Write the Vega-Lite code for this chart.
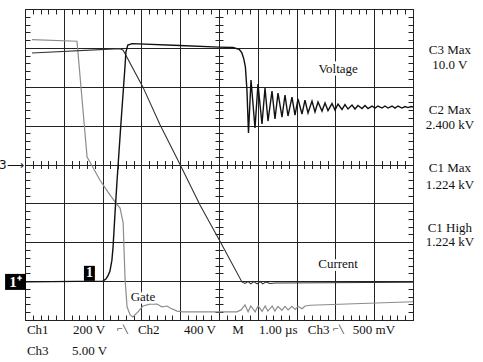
{
  "$schema": "https://vega.github.io/schema/vega-lite/v6.json",
  "width": 388,
  "height": 311,
  "autosize": {"type": "none"},
  "padding": {"left": 25, "top": 9, "right": 70, "bottom": 42},
  "background": "white",
  "config": {
    "view": {"stroke": null},
    "axis": {"domainColor": "#222", "tickColor": "#222", "gridColor": "#222", "domainWidth": 1, "tickWidth": 1, "gridWidth": 1},
    "text": {"font": "Liberation Serif", "fontSize": 13}
  },
  "datasets": {
    "voltage": [
      {"t": 0, "v": -3.02}, {"t": 2.01, "v": -3.0}, {"t": 2.09, "v": -2.94}, {"t": 2.14, "v": -2.86},
      {"t": 2.19, "v": -2.74}, {"t": 2.24, "v": -2.46}, {"t": 2.27, "v": -2.12}, {"t": 2.32, "v": -1.25},
      {"t": 2.37, "v": -0.45}, {"t": 2.47, "v": 1.02}, {"t": 2.58, "v": 2.56}, {"t": 2.6, "v": 2.89},
      {"t": 2.65, "v": 3.07}, {"t": 2.76, "v": 3.11}, {"t": 3.99, "v": 3.06}, {"t": 5.0, "v": 3.02},
      {"t": 5.36, "v": 3.01}, {"t": 5.52, "v": 2.96}, {"t": 5.59, "v": 2.87}, {"t": 5.64, "v": 2.71},
      {"t": 5.68, "v": 2.51}, {"t": 5.72, "v": 1.92}, {"t": 5.76, "v": 0.81},
      {"t": 5.825, "v": 2.172}, {"t": 5.928, "v": 0.938}, {"t": 6.005, "v": 2.069}, {"t": 6.108, "v": 1.041},
      {"t": 6.186, "v": 1.967}, {"t": 6.263, "v": 1.118}, {"t": 6.366, "v": 1.889}, {"t": 6.443, "v": 1.17},
      {"t": 6.521, "v": 1.838}, {"t": 6.624, "v": 1.221}, {"t": 6.701, "v": 1.787}, {"t": 6.778, "v": 1.247},
      {"t": 6.881, "v": 1.735}, {"t": 6.959, "v": 1.272}, {"t": 7.036, "v": 1.684}, {"t": 7.139, "v": 1.298},
      {"t": 7.216, "v": 1.658}, {"t": 7.294, "v": 1.324}, {"t": 7.397, "v": 1.632}, {"t": 7.474, "v": 1.35},
      {"t": 7.552, "v": 1.607}, {"t": 7.655, "v": 1.375}, {"t": 7.732, "v": 1.581}, {"t": 7.809, "v": 1.388},
      {"t": 7.912, "v": 1.568}, {"t": 7.99, "v": 1.401}, {"t": 8.067, "v": 1.555}, {"t": 8.17, "v": 1.414},
      {"t": 8.247, "v": 1.542}, {"t": 8.325, "v": 1.427}, {"t": 8.428, "v": 1.53}, {"t": 8.505, "v": 1.427},
      {"t": 8.582, "v": 1.517}, {"t": 8.686, "v": 1.44}, {"t": 8.763, "v": 1.517}, {"t": 8.84, "v": 1.44},
      {"t": 8.943, "v": 1.504}, {"t": 9.021, "v": 1.452}, {"t": 9.098, "v": 1.504}, {"t": 9.201, "v": 1.452},
      {"t": 9.278, "v": 1.504}, {"t": 9.356, "v": 1.452}, {"t": 9.459, "v": 1.504}, {"t": 9.536, "v": 1.452},
      {"t": 9.613, "v": 1.504}, {"t": 9.716, "v": 1.452}, {"t": 9.794, "v": 1.491}, {"t": 9.871, "v": 1.465},
      {"t": 9.948, "v": 1.491}, {"t": 10.0, "v": 1.478}
    ],
    "current": [
      {"t": 0.18, "v": 2.87}, {"t": 2.45, "v": 2.98}, {"t": 2.53, "v": 2.94}, {"t": 3.04, "v": 1.99},
      {"t": 3.48, "v": 1.02}, {"t": 3.99, "v": 0.01}, {"t": 4.51, "v": -1.04}, {"t": 5.05, "v": -2.02},
      {"t": 5.59, "v": -3.02}, {"t": 5.67, "v": -3.06}, {"t": 5.75, "v": -3.01}, {"t": 5.82, "v": -3.07},
      {"t": 5.9, "v": -3.01}, {"t": 5.98, "v": -3.07}, {"t": 6.06, "v": -3.01}, {"t": 6.13, "v": -3.07},
      {"t": 6.21, "v": -3.02}, {"t": 6.31, "v": -3.06}, {"t": 6.44, "v": -3.05}, {"t": 10.0, "v": -3.03}
    ],
    "gate": [
      {"t": 0.18, "v": 3.21}, {"t": 1.34, "v": 3.17}, {"t": 1.6, "v": 0.19}, {"t": 1.73, "v": -0.04},
      {"t": 1.93, "v": -0.4}, {"t": 2.14, "v": -0.71}, {"t": 2.32, "v": -0.96}, {"t": 2.45, "v": -1.12},
      {"t": 2.53, "v": -1.5}, {"t": 2.55, "v": -2.12}, {"t": 2.58, "v": -2.97}, {"t": 2.63, "v": -3.66},
      {"t": 2.71, "v": -3.87}, {"t": 2.78, "v": -3.92}, {"t": 2.91, "v": -3.79}, {"t": 3.04, "v": -3.64},
      {"t": 3.22, "v": -3.59}, {"t": 3.4, "v": -3.59}, {"t": 3.53, "v": -3.66}, {"t": 3.66, "v": -3.64},
      {"t": 3.74, "v": -3.69}, {"t": 3.92, "v": -3.77}, {"t": 4.07, "v": -3.79}, {"t": 5.46, "v": -3.79},
      {"t": 5.57, "v": -3.74}, {"t": 5.67, "v": -3.61}, {"t": 5.75, "v": -3.79}, {"t": 5.82, "v": -3.64},
      {"t": 5.93, "v": -3.79}, {"t": 6.01, "v": -3.64}, {"t": 6.11, "v": -3.78}, {"t": 6.19, "v": -3.64},
      {"t": 6.26, "v": -3.77}, {"t": 6.37, "v": -3.64}, {"t": 6.44, "v": -3.77}, {"t": 6.52, "v": -3.65},
      {"t": 6.62, "v": -3.75}, {"t": 6.7, "v": -3.65}, {"t": 6.78, "v": -3.74}, {"t": 6.88, "v": -3.65},
      {"t": 6.96, "v": -3.73}, {"t": 7.04, "v": -3.65}, {"t": 7.14, "v": -3.71}, {"t": 7.22, "v": -3.64},
      {"t": 7.35, "v": -3.62}, {"t": 10.0, "v": -3.53}
    ],
    "rightLabels": [
      {"x": 10.95, "y": 2.94, "text": "C3 Max"}, {"x": 10.95, "y": 2.56, "text": "10.0 V"},
      {"x": 10.95, "y": 1.4, "text": "C2 Max"}, {"x": 10.95, "y": 1.02, "text": "2.400 kV"},
      {"x": 10.95, "y": -0.09, "text": "C1 Max"}, {"x": 10.95, "y": -0.53, "text": "1.224 kV"},
      {"x": 10.95, "y": -1.63, "text": "C1 High"}, {"x": 10.95, "y": -1.99, "text": "1.224 kV"}
    ],
    "bottomLabels": [
      {"x": 0.05, "y": -4.25, "text": "Ch1"}, {"x": 1.24, "y": -4.25, "text": "200 V"},
      {"x": 2.91, "y": -4.25, "text": "Ch2"},
      {"x": 4.1, "y": -4.25, "text": "400 V"}, {"x": 5.34, "y": -4.25, "text": "M"},
      {"x": 6.03, "y": -4.25, "text": "1.00 µs"}, {"x": 7.29, "y": -4.25, "text": "Ch3"},
      {"x": 8.45, "y": -4.25, "text": "500 mV"},
      {"x": 0.05, "y": -4.79, "text": "Ch3"}, {"x": 1.21, "y": -4.79, "text": "5.00 V"}
    ],
    "edgeSymbols": [
      {"x": 2.5, "y": -4.25, "text": "⌐╲"}, {"x": 8.07, "y": -4.25, "text": "⌐╲"}
    ],
    "plotLabels": [
      {"x": 8.07, "y": 2.45, "text": "Voltage"},
      {"x": 8.07, "y": -2.56, "text": "Current"},
      {"x": 3.04, "y": -3.41, "text": "Gate"}
    ],
    "groundMarker": [{"x": -0.245, "y": -3.02, "text": "1⁺"}],
    "triggerMarker": [{"x": 1.66, "y": -2.8, "text": "1"}],
    "gateMarker": [{"x": -0.03, "y": 0, "text": "3⟶"}]
  },
  "resolve": {"axis": {"x": "independent", "y": "independent"}},
  "layer": [
    {
      "data": {"name": "gate"},
      "mark": {"type": "line", "color": "#8c8c8c", "strokeWidth": 1.2},
      "encoding": {
        "x": {"field": "t", "type": "quantitative", "scale": {"domain": [0, 10], "nice": false, "zero": false},
          "axis": {"orient": "bottom", "offset": -159.5, "values": [0,0.2,0.4,0.6,0.8,1,1.2,1.4,1.6,1.8,2,2.2,2.4,2.6,2.8,3,3.2,3.4,3.6,3.8,4,4.2,4.4,4.6,4.8,5,5.2,5.4,5.6,5.8,6,6.2,6.4,6.6,6.8,7,7.2,7.4,7.6,7.8,8,8.2,8.4,8.6,8.8,9,9.2,9.4,9.6,9.8,10], "tickSize": 8, "domain": false, "grid": false, "labels": false, "title": null}},
        "y": {"field": "v", "type": "quantitative", "scale": {"domain": [-4, 4], "nice": false, "zero": false},
          "axis": {"orient": "left", "offset": -198, "values": [-4,-3.8,-3.6,-3.4,-3.2,-3,-2.8,-2.6,-2.4,-2.2,-2,-1.8,-1.6,-1.4,-1.2,-1,-0.8,-0.6,-0.4,-0.2,0,0.2,0.4,0.6,0.8,1,1.2,1.4,1.6,1.8,2,2.2,2.4,2.6,2.8,3,3.2,3.4,3.6,3.8,4], "tickSize": 8, "domain": false, "grid": false, "labels": false, "title": null}}
      }
    },
    {
      "data": {"name": "current"},
      "mark": {"type": "line", "color": "#333", "strokeWidth": 1.1},
      "encoding": {
        "x": {"field": "t", "type": "quantitative", "scale": {"domain": [0, 10], "nice": false, "zero": false},
          "axis": {"orient": "top", "values": [0,0.2,0.4,0.6,0.8,1,1.2,1.4,1.6,1.8,2,2.2,2.4,2.6,2.8,3,3.2,3.4,3.6,3.8,4,4.2,4.4,4.6,4.8,5,5.2,5.4,5.6,5.8,6,6.2,6.4,6.6,6.8,7,7.2,7.4,7.6,7.8,8,8.2,8.4,8.6,8.8,9,9.2,9.4,9.6,9.8,10], "tickSize": -5, "domain": true, "grid": false, "labels": false, "title": null}},
        "y": {"field": "v", "type": "quantitative", "scale": {"domain": [-4, 4], "nice": false, "zero": false},
          "axis": {"orient": "right", "values": [-4,-3.8,-3.6,-3.4,-3.2,-3,-2.8,-2.6,-2.4,-2.2,-2,-1.8,-1.6,-1.4,-1.2,-1,-0.8,-0.6,-0.4,-0.2,0,0.2,0.4,0.6,0.8,1,1.2,1.4,1.6,1.8,2,2.2,2.4,2.6,2.8,3,3.2,3.4,3.6,3.8,4], "tickSize": -5, "domain": true, "grid": false, "labels": false, "title": null}}
      }
    },
    {
      "data": {"name": "voltage"},
      "mark": {"type": "line", "color": "#111", "strokeWidth": 1.4},
      "encoding": {
        "x": {"field": "t", "type": "quantitative", "scale": {"domain": [0, 10], "nice": false, "zero": false},
          "axis": {"orient": "bottom", "values": [0,0.2,0.4,0.6,0.8,1,1.2,1.4,1.6,1.8,2,2.2,2.4,2.6,2.8,3,3.2,3.4,3.6,3.8,4,4.2,4.4,4.6,4.8,5,5.2,5.4,5.6,5.8,6,6.2,6.4,6.6,6.8,7,7.2,7.4,7.6,7.8,8,8.2,8.4,8.6,8.8,9,9.2,9.4,9.6,9.8,10], "tickSize": -5, "domain": true, "grid": true,
            "gridOpacity": {"condition": {"test": "abs(datum.value - round(datum.value)) < 0.01", "value": 1}, "value": 0},
            "labels": false, "title": null}},
        "y": {"field": "v", "type": "quantitative", "scale": {"domain": [-4, 4], "nice": false, "zero": false},
          "axis": {"orient": "left", "values": [-4,-3.8,-3.6,-3.4,-3.2,-3,-2.8,-2.6,-2.4,-2.2,-2,-1.8,-1.6,-1.4,-1.2,-1,-0.8,-0.6,-0.4,-0.2,0,0.2,0.4,0.6,0.8,1,1.2,1.4,1.6,1.8,2,2.2,2.4,2.6,2.8,3,3.2,3.4,3.6,3.8,4], "tickSize": -5, "domain": true, "grid": true,
            "gridOpacity": {"condition": {"test": "abs(datum.value - round(datum.value)) < 0.01", "value": 1}, "value": 0},
            "labels": false, "title": null}}
      }
    },
    {
      "data": {"name": "plotLabels"},
      "mark": {"type": "text", "align": "center", "baseline": "middle", "color": "white", "stroke": "white", "strokeWidth": 5},
      "encoding": {
        "x": {"field": "x", "type": "quantitative", "scale": {"domain": [0, 10], "nice": false, "zero": false}, "axis": null},
        "y": {"field": "y", "type": "quantitative", "scale": {"domain": [-4, 4], "nice": false, "zero": false}, "axis": null},
        "text": {"field": "text"}
      }
    },
    {
      "data": {"name": "plotLabels"},
      "mark": {"type": "text", "align": "center", "baseline": "middle", "color": "#111"},
      "encoding": {
        "x": {"field": "x", "type": "quantitative", "scale": {"domain": [0, 10], "nice": false, "zero": false}, "axis": null},
        "y": {"field": "y", "type": "quantitative", "scale": {"domain": [-4, 4], "nice": false, "zero": false}, "axis": null},
        "text": {"field": "text"}
      }
    },
    {
      "data": {"name": "rightLabels"},
      "mark": {"type": "text", "align": "center", "baseline": "middle", "color": "#111"},
      "encoding": {
        "x": {"field": "x", "type": "quantitative", "scale": {"domain": [0, 10], "nice": false, "zero": false}, "axis": null},
        "y": {"field": "y", "type": "quantitative", "scale": {"domain": [-4, 4], "nice": false, "zero": false}, "axis": null},
        "text": {"field": "text"}
      }
    },
    {
      "data": {"name": "bottomLabels"},
      "mark": {"type": "text", "align": "left", "baseline": "middle", "color": "#111"},
      "encoding": {
        "x": {"field": "x", "type": "quantitative", "scale": {"domain": [0, 10], "nice": false, "zero": false}, "axis": null},
        "y": {"field": "y", "type": "quantitative", "scale": {"domain": [-4, 4], "nice": false, "zero": false}, "axis": null},
        "text": {"field": "text"}
      }
    },
    {
      "data": {"name": "edgeSymbols"},
      "mark": {"type": "text", "align": "center", "baseline": "middle", "color": "#222", "font": "DejaVu Sans", "fontSize": 8, "letterSpacing": -3},
      "encoding": {
        "x": {"field": "x", "type": "quantitative", "scale": {"domain": [0, 10], "nice": false, "zero": false}, "axis": null},
        "y": {"field": "y", "type": "quantitative", "scale": {"domain": [-4, 4], "nice": false, "zero": false}, "axis": null},
        "text": {"field": "text"}
      }
    },
    {
      "data": {"name": "groundMarker"},
      "mark": {"type": "point", "shape": "M-1.3,-1H1.3V1H-1.3Z", "size": 256, "filled": true, "color": "black", "opacity": 1},
      "encoding": {
        "x": {"field": "x", "type": "quantitative", "scale": {"domain": [0, 10], "nice": false, "zero": false}, "axis": null},
        "y": {"field": "y", "type": "quantitative", "scale": {"domain": [-4, 4], "nice": false, "zero": false}, "axis": null}
      }
    },
    {
      "data": {"name": "groundMarker"},
      "mark": {"type": "text", "align": "center", "baseline": "middle", "color": "white", "fontWeight": "bold", "fontSize": 15},
      "encoding": {
        "x": {"field": "x", "type": "quantitative", "scale": {"domain": [0, 10], "nice": false, "zero": false}, "axis": null},
        "y": {"field": "y", "type": "quantitative", "scale": {"domain": [-4, 4], "nice": false, "zero": false}, "axis": null},
        "text": {"field": "text"}
      }
    },
    {
      "data": {"name": "triggerMarker"},
      "mark": {"type": "point", "shape": "M-0.73,-1H0.73V1H-0.73Z", "size": 225, "filled": true, "color": "black", "opacity": 1},
      "encoding": {
        "x": {"field": "x", "type": "quantitative", "scale": {"domain": [0, 10], "nice": false, "zero": false}, "axis": null},
        "y": {"field": "y", "type": "quantitative", "scale": {"domain": [-4, 4], "nice": false, "zero": false}, "axis": null}
      }
    },
    {
      "data": {"name": "triggerMarker"},
      "mark": {"type": "text", "align": "center", "baseline": "middle", "color": "white", "fontWeight": "bold", "fontSize": 14},
      "encoding": {
        "x": {"field": "x", "type": "quantitative", "scale": {"domain": [0, 10], "nice": false, "zero": false}, "axis": null},
        "y": {"field": "y", "type": "quantitative", "scale": {"domain": [-4, 4], "nice": false, "zero": false}, "axis": null},
        "text": {"field": "text"}
      }
    },
    {
      "data": {"name": "gateMarker"},
      "mark": {"type": "text", "align": "right", "baseline": "middle", "color": "#111", "font": "DejaVu Sans", "fontSize": 12},
      "encoding": {
        "x": {"field": "x", "type": "quantitative", "scale": {"domain": [0, 10], "nice": false, "zero": false}, "axis": null},
        "y": {"field": "y", "type": "quantitative", "scale": {"domain": [-4, 4], "nice": false, "zero": false}, "axis": null},
        "text": {"field": "text"}
      }
    }
  ]
}
